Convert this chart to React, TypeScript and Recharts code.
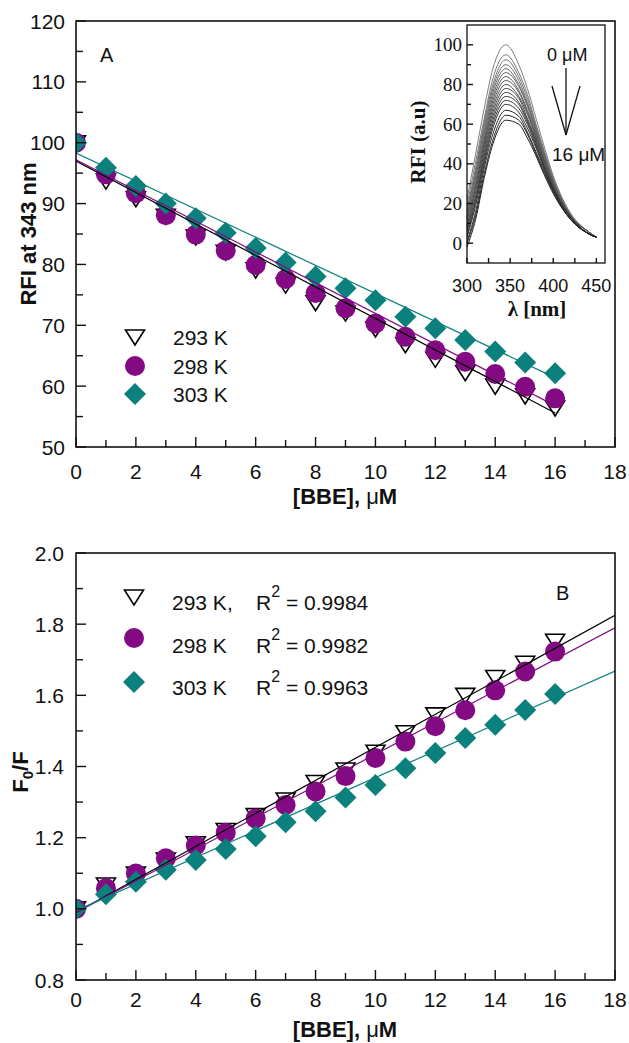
import React from 'react';
import { ScatterChart, Scatter, XAxis, YAxis, LineChart, Line } from 'recharts';

// ---- panel A : RFI at 343 nm vs [BBE] ----
const CONC = [0, 1, 2, 3, 4, 5, 6, 7, 8, 9, 10, 11, 12, 13, 14, 15, 16];
const A_293 = [100, 93.7, 90.8, 87.9, 84.5, 82.0, 79.1, 76.6, 73.7, 72.0, 69.4, 66.8, 64.4, 62.2, 60.0, 58.4, 56.4];
const A_298 = [100, 94.8, 91.7, 88.1, 84.9, 82.3, 79.9, 77.6, 75.3, 72.8, 70.3, 68.1, 65.9, 64.0, 62.0, 59.9, 58.0];
const A_303 = [100, 95.9, 92.9, 90.0, 87.6, 85.2, 82.7, 80.3, 78.0, 76.1, 74.1, 71.4, 69.5, 67.6, 65.7, 63.9, 62.1];
const FIT_X_A = [0, 16];
const FIT_A_293 = [97.0, 55.6];
const FIT_A_298 = [97.2, 56.8];
const FIT_A_303 = [98.3, 61.4];

// ---- panel B : F0/F vs [BBE] ----
const B_293 = [1.0, 1.067, 1.098, 1.137, 1.183, 1.22, 1.262, 1.306, 1.355, 1.39, 1.44, 1.495, 1.545, 1.6, 1.65, 1.69, 1.752];
const B_298 = [1.0, 1.058, 1.099, 1.142, 1.178, 1.214, 1.254, 1.292, 1.33, 1.373, 1.424, 1.47, 1.513, 1.558, 1.614, 1.667, 1.723];
const B_303 = [1.0, 1.041, 1.076, 1.11, 1.137, 1.168, 1.204, 1.243, 1.274, 1.313, 1.348, 1.395, 1.438, 1.48, 1.517, 1.559, 1.604];
const FIT_X_B = [0, 18];
const FIT_B_293 = [0.99, 1.825];
const FIT_B_298 = [0.99, 1.79];
const FIT_B_303 = [0.995, 1.668];

const X_TICKS = [0, 1, 2, 3, 4, 5, 6, 7, 8, 9, 10, 11, 12, 13, 14, 15, 16, 17, 18];
const Y_TICKS_A = [50, 55, 60, 65, 70, 75, 80, 85, 90, 95, 100, 105, 110, 115, 120];
const Y_TICKS_B = [0.8, 0.9, 1.0, 1.1, 1.2, 1.3, 1.4, 1.5, 1.6, 1.7, 1.8, 1.9, 2.0];

// ---- inset : emission spectra, 0 -> 16 uM ----
const WAVELENGTHS = [300, 310, 320, 330, 345, 360, 370, 380, 390, 400, 420, 440, 450];
const SPECTRA = [
  [22, 45, 68, 88, 100, 90, 78, 63, 48, 34, 15, 6, 3],
  [19, 41, 63, 83, 95, 86, 75, 60, 46, 33, 15, 6, 3],
  [17, 38, 61, 80, 92.5, 84, 73, 59, 45, 32, 14, 6, 3],
  [16, 36, 59, 78, 90, 82, 71, 58, 44, 32, 14, 6, 3],
  [14, 35, 57, 76, 88, 80, 70, 57, 44, 31, 14, 6, 3],
  [13, 33, 55, 74, 86, 79, 69, 56, 43, 31, 14, 6, 3],
  [12, 31, 53, 72, 84, 77, 67, 55, 42, 30, 14, 6, 3],
  [11, 29, 51, 70, 82, 76, 66, 54, 41, 30, 14, 5, 3],
  [9, 28, 50, 68, 80, 74, 65, 53, 41, 29, 13, 5, 3],
  [8, 26, 48, 66, 78, 73, 63, 52, 40, 29, 13, 5, 3],
  [7, 24, 46, 64, 76, 71, 62, 51, 39, 28, 13, 5, 3],
  [6, 22, 44, 62, 74, 70, 61, 50, 38, 28, 13, 5, 3],
  [4, 21, 42, 60, 72, 68, 60, 49, 38, 27, 13, 5, 3],
  [3, 19, 40, 58, 70, 66, 58, 48, 37, 27, 13, 5, 3],
  [1, 16, 38, 55, 67, 64, 56, 46, 36, 26, 12, 5, 3],
  [0, 14, 35, 52, 64.5, 62, 55, 45, 35, 26, 12, 5, 3],
  [-2, 12, 33, 50, 62, 60, 53, 44, 34, 25, 12, 5, 3],
];
const INSET_X_TICKS = [300, 325, 350, 375, 400, 425, 450];
const INSET_TOP_TICKS = [325, 375, 425];
const INSET_Y_TICKS = [0, 10, 20, 30, 40, 50, 60, 70, 80, 90, 100];

const SANS = '"Liberation Sans", Arial, sans-serif';
const SERIF = '"Liberation Serif", "Times New Roman", serif';
const PURPLE = '#830a83';
const TEAL = '#0b807d';

const pts = (xs: number[], ys: number[]) => xs.map((x, i) => ({ x, y: ys[i] }));

const tri = (cx: number, cy: number) => (
  <path d={`M${cx - 9.5},${cy - 7} L${cx + 9.5},${cy - 7} L${cx},${cy + 8} Z`} fill="#fff" stroke="#000" strokeWidth={1.6} />
);
const dot = (cx: number, cy: number) => <circle cx={cx} cy={cy} r={10} fill={PURPLE} />;
const diamond = (cx: number, cy: number) => (
  <path d={`M${cx},${cy - 11} L${cx + 11},${cy} L${cx},${cy + 11} L${cx - 11},${cy} Z`} fill={TEAL} />
);

function TickY(props: any) {
  const { y, payload, plotLeft, isMajor, format, font, size, gap, shift, majorLen, minorLen } = props;
  const major = isMajor(payload.value);
  return (
    <g>
      <line x1={plotLeft} x2={plotLeft + (major ? majorLen : minorLen)} y1={y} y2={y} stroke="#111" strokeWidth={1.4} />
      {major && (
        <text x={plotLeft - gap} y={y + shift} textAnchor="end" fontFamily={font} fontSize={size} fill="#111">
          {format(payload.value)}
        </text>
      )}
    </g>
  );
}

function TickX(props: any) {
  const { x, payload, plotBottom, isMajor, font, size, offset, majorLen, minorLen } = props;
  const major = isMajor(payload.value);
  return (
    <g>
      <line x1={x} x2={x} y1={plotBottom} y2={plotBottom - (major ? majorLen : minorLen)} stroke="#111" strokeWidth={1.4} />
      {major && (
        <text x={x} y={plotBottom + offset} textAnchor="middle" fontFamily={font} fontSize={size} fill="#111">
          {payload.value}
        </text>
      )}
    </g>
  );
}

function TickTop(props: any) {
  const { x, plotTop } = props;
  return <line x1={x} x2={x} y1={plotTop} y2={plotTop + 5} stroke="#111" strokeWidth={1.2} />;
}

const evenX = (v: number) => v % 2 === 0;

function MainPanel(props: any) {
  const { d293, d298, d303, f293, f298, f303, fitX, yDomain, yTicks, yMajor, yFormat, topMargin, height, axisH } = props;
  const plotBottom = height - axisH;
  return (
    <ScatterChart width={629} height={height} margin={{ top: topMargin, right: 14, bottom: 0, left: 0 }}>
      <XAxis
        type="number" dataKey="x" domain={[0, 18]} ticks={X_TICKS} interval={0}
        axisLine={false} tickLine={false} height={axisH} allowDataOverflow
        tick={<TickX plotBottom={plotBottom} isMajor={evenX} font={SANS} size={21} offset={props.xLabelOffset} majorLen={10} minorLen={7} />}
      />
      <YAxis
        type="number" dataKey="y" domain={yDomain} ticks={yTicks} interval={0}
        axisLine={false} tickLine={false} width={76} allowDataOverflow
        tick={<TickY plotLeft={76} isMajor={yMajor} format={yFormat} font={SANS} size={21} gap={props.yGap} shift={7.5} majorLen={10} minorLen={7} />}
      />
      <Scatter data={pts(CONC, d293)} isAnimationActive={false} shape={(p: any) => tri(p.cx, p.cy)} />
      <Scatter data={pts(CONC, d298)} isAnimationActive={false} shape={(p: any) => dot(p.cx, p.cy)} />
      <Scatter data={pts(CONC, d303)} isAnimationActive={false} shape={(p: any) => diamond(p.cx, p.cy)} />
      <Scatter data={pts(fitX, f293)} isAnimationActive={false} line={{ stroke: '#000', strokeWidth: 1.2 }} shape={() => <g />} />
      <Scatter data={pts(fitX, f298)} isAnimationActive={false} line={{ stroke: PURPLE, strokeWidth: 1.2 }} shape={() => <g />} />
      <Scatter data={pts(fitX, f303)} isAnimationActive={false} line={{ stroke: TEAL, strokeWidth: 1.2 }} shape={() => <g />} />
    </ScatterChart>
  );
}

function Inset() {
  const rows = WAVELENGTHS.map((w, j) => {
    const row: any = { w };
    SPECTRA.forEach((s, i) => {
      row['c' + i] = s[j];
    });
    return row;
  });
  return (
    <LineChart width={215} height={330} data={rows} margin={{ top: 25, right: 10, bottom: 0, left: 0 }}>
      <XAxis
        type="number" dataKey="w" domain={[300, 460]} ticks={INSET_X_TICKS} interval={0}
        axisLine={false} tickLine={false} height={67}
        tick={<TickX plotBottom={263} isMajor={(v: number) => v % 50 === 0} font={SANS} size={18} offset={28.5} majorLen={5} minorLen={5} />}
      />
      <XAxis
        xAxisId="top" orientation="top" type="number" domain={[300, 460]} ticks={INSET_TOP_TICKS} interval={0}
        axisLine={false} tickLine={false} height={0} tick={<TickTop plotTop={25} />}
      />
      <YAxis
        type="number" domain={[-10, 110]} ticks={INSET_Y_TICKS} interval={0}
        axisLine={false} tickLine={false} width={67}
        tick={<TickY plotLeft={67} isMajor={(v: number) => v % 20 === 0} format={(v: number) => v} font={SERIF} size={19} gap={5} shift={6.5} majorLen={6} minorLen={4} />}
      />
      {SPECTRA.map((_, i) => {
        const g = Math.round(125 - i * 6);
        return (
          <Line
            key={i} type="monotone" dataKey={'c' + i} dot={false} isAnimationActive={false}
            stroke={`rgb(${g},${g},${g})`} strokeWidth={1}
          />
        );
      })}
    </LineChart>
  );
}

export default function App() {
  return (
    <div style={{ position: 'absolute', left: 0, top: 0, width: 629, height: 1043, background: '#fff' }}>
      <div style={{ position: 'absolute', left: 0, top: 0 }}>
        <MainPanel
          d293={A_293} d298={A_298} d303={A_303} f293={FIT_A_293} f298={FIT_A_298} f303={FIT_A_303} fitX={FIT_X_A}
          yDomain={[50, 120]} yTicks={Y_TICKS_A} yMajor={(v: number) => v % 10 === 0} yFormat={(v: number) => v}
          topMargin={21} height={520} axisH={73} xLabelOffset={32} yGap={11}
        />
      </div>
      <div style={{ position: 'absolute', left: 400, top: 0 }}>
        <Inset />
      </div>
      <div style={{ position: 'absolute', left: 0, top: 520 }}>
        <MainPanel
          d293={B_293} d298={B_298} d303={B_303} f293={FIT_B_293} f298={FIT_B_298} f303={FIT_B_303} fitX={FIT_X_B}
          yDomain={[0.8, 2.0]} yTicks={Y_TICKS_B} yMajor={(v: number) => Math.round(v * 10) % 2 === 0} yFormat={(v: number) => v.toFixed(1)}
          topMargin={33} height={523} axisH={63} xLabelOffset={27} yGap={12}
        />
      </div>
      <svg width={629} height={1043} style={{ position: 'absolute', left: 0, top: 0, pointerEvents: 'none' }}>
        {/* frames */}
        <rect x={76} y={21} width={539} height={426} fill="none" stroke="#111" strokeWidth={1.6} />
        <rect x={76} y={553} width={539} height={427} fill="none" stroke="#111" strokeWidth={1.6} />
        <rect x={467} y={25} width={138} height={238} fill="none" stroke="#111" strokeWidth={1.3} />

        {/* panel A texts */}
        <text transform="translate(28,234) rotate(-90)" y={7.5} textAnchor="middle" fontFamily={SANS} fontWeight="bold" fontSize={22} fill="#111">
          RFI at 343 nm
        </text>
        <text x={345} y={504} textAnchor="middle" fontFamily={SANS} fontWeight="bold" fontSize={22} fill="#111">
          [BBE], <tspan fontWeight="normal">μ</tspan>M
        </text>
        <text x={100} y={62} fontFamily={SANS} fontSize={20} fill="#111">A</text>
        {tri(135, 337)}
        {dot(135, 366)}
        {diamond(135, 394)}
        <text x={173} y={345} fontFamily={SANS} fontSize={21} fill="#111">293 K</text>
        <text x={173} y={373.5} fontFamily={SANS} fontSize={21} fill="#111">298 K</text>
        <text x={173} y={402} fontFamily={SANS} fontSize={21} fill="#111">303 K</text>

        {/* inset texts */}
        <text transform="translate(418,142) rotate(-90)" y={7} textAnchor="middle" fontFamily={SERIF} fontWeight="bold" fontSize={21} fill="#111">
          RFI (a.u)
        </text>
        <text x={537} y={316} textAnchor="middle" fontFamily={SERIF} fontWeight="bold" fontSize={21} fill="#111">
          λ [nm]
        </text>
        <text x={547} y={61} fontFamily={SANS} fontSize={18} fill="#111">0 μM</text>
        <text x={552} y={161} fontFamily={SANS} fontSize={19} fill="#111">16 μM</text>
        <line x1={566} y1={68} x2={566} y2={135} stroke="#111" strokeWidth={1.3} />
        <line x1={552} y1={86} x2={566} y2={135} stroke="#111" strokeWidth={1.3} />
        <line x1={580} y1={86} x2={566} y2={135} stroke="#111" strokeWidth={1.3} />

        {/* panel B texts */}
        <text transform="translate(20,772) rotate(-90)" y={7.5} textAnchor="middle" fontFamily={SANS} fontWeight="bold" fontSize={22} fill="#111">
          F<tspan dy={5} fontSize={15}>0</tspan><tspan dy={-5}>/F</tspan>
        </text>
        <text x={345} y={1037} textAnchor="middle" fontFamily={SANS} fontWeight="bold" fontSize={22} fill="#111">
          [BBE], <tspan fontWeight="normal">μ</tspan>M
        </text>
        <text x={556} y={600} fontFamily={SANS} fontSize={20} fill="#111">B</text>
        {tri(134, 597)}
        {dot(134, 638)}
        {diamond(134, 682)}
        {[
          ['293 K,', '0.9984', 610],
          ['298 K', '0.9982', 652.5],
          ['303 K', '0.9963', 694.5],
        ].map(([t, r, y]) => (
          <g key={t as string}>
            <text x={172} y={y as number} fontFamily={SANS} fontSize={21} fill="#111">{t}</text>
            <text x={256} y={y as number} fontFamily={SANS} fontSize={21} fill="#111">
              R<tspan dy={-13} fontSize={16}>2</tspan><tspan dy={13}> = {r}</tspan>
            </text>
          </g>
        ))}
      </svg>
    </div>
  );
}
